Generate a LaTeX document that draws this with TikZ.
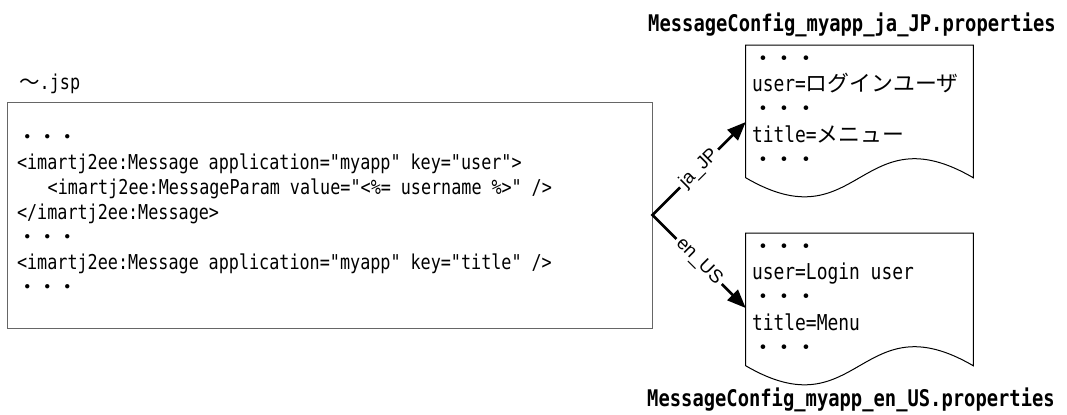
\documentclass[tikz,border=0pt]{standalone}
\usepackage{fontspec}
\newfontfamily\codefont[FakeStretch=0.82]{DejaVu Sans Mono}
\newfontfamily\jpfont{Noto Sans CJK JP}
\newfontfamily\labelfont{Liberation Sans}
\newcommand\jp[1]{{\jpfont #1}}
\usetikzlibrary{positioning, arrows.meta}

\begin{document}
\begin{tikzpicture}[
    x=0.75pt, y=0.75pt,
    codebox/.style={draw=black!60, line width=0.75pt, minimum width=483.75pt, minimum height=169.5pt, text width=468.75pt, inner xsep=7.5pt, align=left, font=\codefont\fontsize{15.35}{18.75}\selectfont},
    propbox/.style={minimum width=170.25pt, minimum height=99pt, text width=161.25pt, inner xsep=4.5pt, inner ysep=0pt, align=left, font=\codefont\fontsize{16.4}{19}\selectfont},
    filetitle/.style={font=\codefont\bfseries\fontsize{17.2}{20}\selectfont},
    langarrow/.style={line width=2pt, {Triangle[length=14pt, width=11pt]}-{Triangle[length=14pt, width=11pt]}},
    langlabel/.style={sloped, fill=white, inner sep=2.5pt, font=\labelfont\fontsize{14}{15}\selectfont}
]
\useasboundingbox (0,0) rectangle (1067,-414);

\node[codebox] (jsp) at (329.5,-215) {\spaceskip=7.4pt\relax\jp{・・・}\\
    <imartj2ee:Message application="myapp" key="user">\\
    \hspace*{1.5em}<imartj2ee:MessageParam value="<\%= username \%>" />\\
    </imartj2ee:Message>\\
    \jp{・・・}\\
    <imartj2ee:Message application="myapp" key="title" />\\
    \jp{・・・}};
\node[anchor=west, inner sep=0pt, font=\codefont\fontsize{15.35}{18}\selectfont] (jspname) at (19,-84) {\jp{～}.jsp};

\node[propbox] (japrop) at (859.5,-111.5) {\spaceskip=8.1pt\relax\jp{・・・}\\ user=\jp{ログインユーザ}\\ \jp{・・・}\\ title=\jp{メニュー}\\ \jp{・・・}};
\node[propbox] (enprop) at (859.5,-299.5) {\spaceskip=8.1pt\relax\jp{・・・}\\ user=Login user\\ \jp{・・・}\\ title=Menu\\ \jp{・・・}};
\node[filetitle] (jatitle) at (852,-25) {MessageConfig\_myapp\_ja\_JP.properties};
\node[filetitle] (entitle) at (851,-400) {MessageConfig\_myapp\_en\_US.properties};

\foreach \f in {japrop, enprop}
    \draw[line width=0.75pt] (\f.north west) -- (\f.north east) -- (\f.south east)
        .. controls ([shift={(-113,66)}]\f.south east) and ([shift={(113,-66)}]\f.south west) .. (\f.south west) -- cycle;

\draw[langarrow] ([yshift=-7.9pt]japrop.west) -- node[langlabel] {ja\_JP} (jsp.east)
    -- node[langlabel] {en\_US} ([yshift=-6.4pt]enprop.west);
\end{tikzpicture}
\end{document}
